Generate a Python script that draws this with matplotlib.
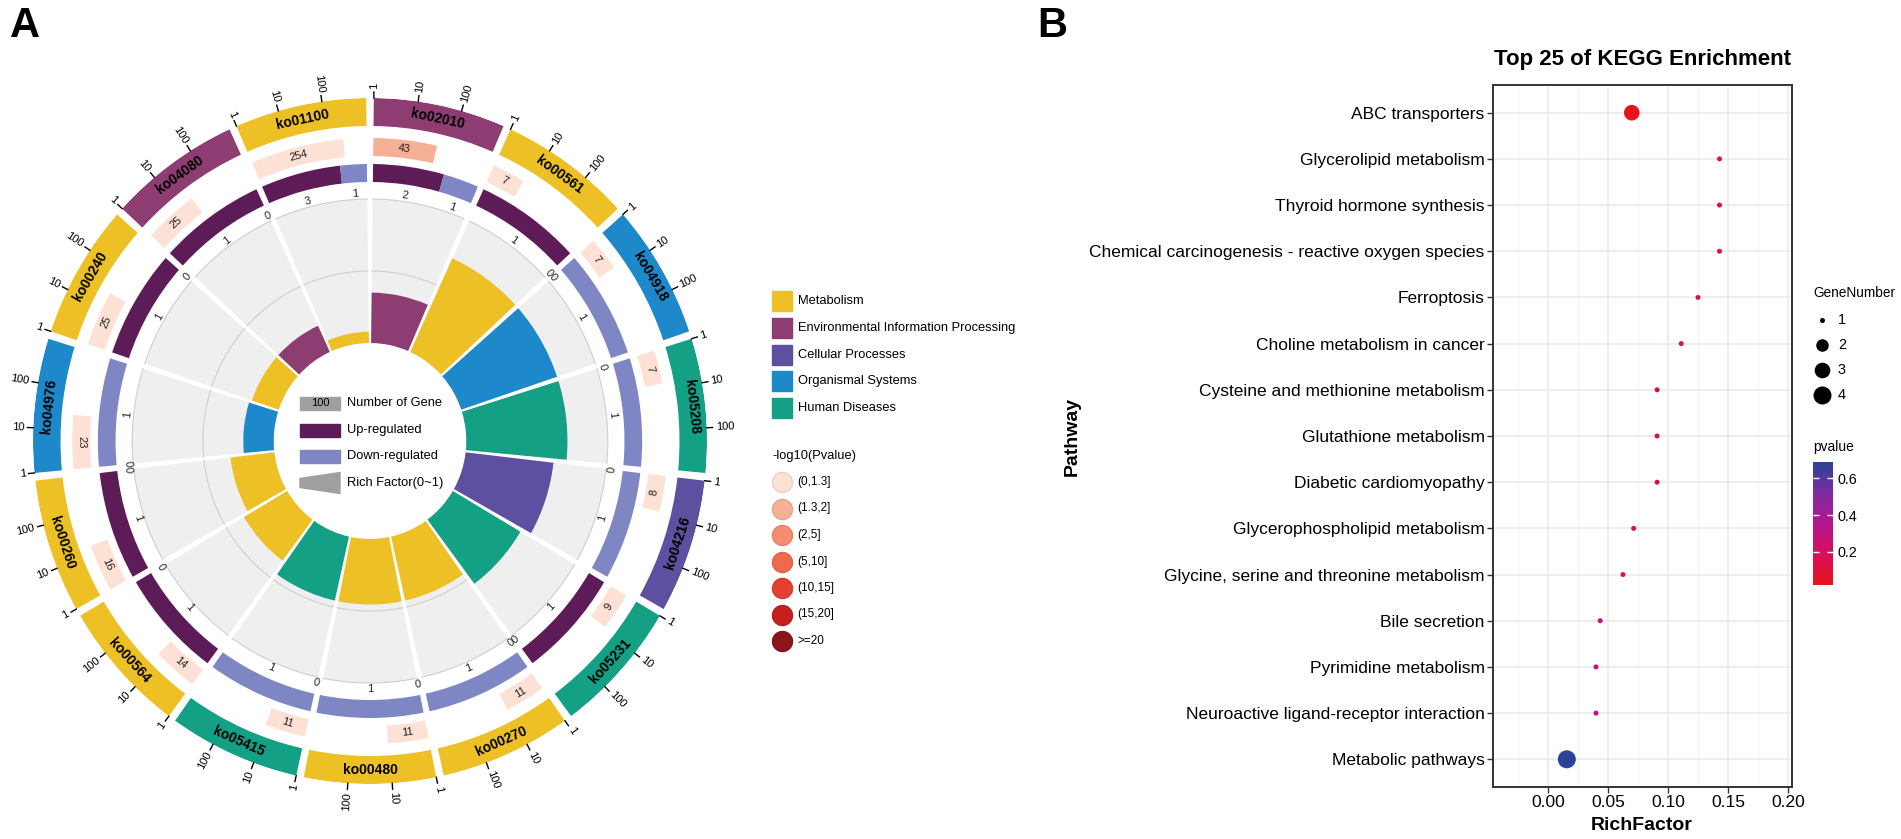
import numpy as np
import matplotlib
matplotlib.use('Agg')
import matplotlib.pyplot as plt
from matplotlib.patches import Rectangle, Polygon
from matplotlib.colors import LinearSegmentedColormap, to_rgb

plt.rcParams['font.family'] = ['Liberation Sans', 'DejaVu Sans']

# ---------------- panel A data (sectors clockwise from 12 o'clock)
ko_ids = ['ko02010', 'ko00561', 'ko04918', 'ko05208', 'ko04216', 'ko05231', 'ko00270', 'ko00480',
          'ko05415', 'ko00564', 'ko00260', 'ko04976', 'ko00240', 'ko04080', 'ko01100']
ko_class = ['Environmental Information Processing', 'Metabolism', 'Organismal Systems', 'Human Diseases',
            'Cellular Processes', 'Human Diseases', 'Metabolism', 'Metabolism', 'Human Diseases',
            'Metabolism', 'Metabolism', 'Organismal Systems', 'Metabolism',
            'Environmental Information Processing', 'Metabolism']
bg_genes = [43, 7, 7, 7, 8, 9, 11, 11, 11, 14, 16, 23, 25, 25, 254]
up_genes = [2, 1, 0, 0, 0, 1, 0, 0, 0, 1, 1, 0, 1, 1, 3]
down_genes = [1, 0, 1, 1, 1, 0, 1, 1, 1, 0, 0, 1, 0, 0, 1]
rich_factor = [0.070, 0.143, 0.143, 0.143, 0.125, 0.111, 0.091, 0.091, 0.091, 0.071, 0.0625,
               0.043, 0.040, 0.040, 0.0157]
p_class = ['(1.3,2]'] + ['(0,1.3]'] * 14

class_names = ['Metabolism', 'Environmental Information Processing', 'Cellular Processes',
               'Organismal Systems', 'Human Diseases']
class_colors = {'Metabolism': '#EDC126', 'Environmental Information Processing': '#8E3D72',
                'Cellular Processes': '#5F4FA0', 'Organismal Systems': '#1D89CB',
                'Human Diseases': '#13A085'}
p_names = ['(0,1.3]', '(1.3,2]', '(2,5]', '(5,10]', '(10,15]', '(15,20]', '>=20']
p_colors = {'(0,1.3]': '#FCE1D4', '(1.3,2]': '#F6B095', '(2,5]': '#F38E70', '(5,10]': '#EE6A4E',
            '(10,15]': '#E53F32', '(15,20]': '#C3201F', '>=20': '#8B1518'}
up_col = '#5D1B57'
down_col = '#7E87C3'
tick_vals = [1, 10, 100]

# ---------------- panel B data
pathways = ['ABC transporters', 'Glycerolipid metabolism', 'Thyroid hormone synthesis',
            'Chemical carcinogenesis - reactive oxygen species', 'Ferroptosis',
            'Choline metabolism in cancer', 'Cysteine and methionine metabolism',
            'Glutathione metabolism', 'Diabetic cardiomyopathy', 'Glycerophospholipid metabolism',
            'Glycine, serine and threonine metabolism', 'Bile secretion', 'Pyrimidine metabolism',
            'Neuroactive ligand-receptor interaction', 'Metabolic pathways']
rf_b = [0.0698, 0.1429, 0.1429, 0.1429, 0.125, 0.111, 0.0909, 0.0909, 0.0909, 0.0714, 0.0625,
        0.0435, 0.040, 0.040, 0.0157]
gene_number = [3, 1, 1, 1, 1, 1, 1, 1, 1, 1, 1, 1, 1, 1, 4]
pvalue = [0.019, 0.10, 0.10, 0.10, 0.11, 0.12, 0.14, 0.14, 0.14, 0.17, 0.19, 0.27, 0.29, 0.29, 0.69]

W, H = 1901, 839
fig = plt.figure(figsize=(W / 100, H / 100), dpi=100)


def fx(x):
    return x / W


def fy(y):
    return 1 - y / H


# ---------------- panel A : circos
cx, cy, Rx, Ry = 370, 441, 337, 343
R = Ry
axA = fig.add_axes([fx(cx - Rx), fy(cy + Ry), 2 * Rx / W, 2 * Ry / H], projection='polar')
axA.set_theta_zero_location('N')
axA.set_theta_direction(-1)
axA.set_aspect('auto')
axA.axis('off')

r_ring, h_ring = 315, 28
r_num, h_num = 285, 18
r_ud, h_ud = 259, 18
r_udlab = 248
r_in, r_grid, r_out = 98, 170, 242
rf_scale = 720


def tan_rot(a):
    rot = (-a + 180) % 360 - 180
    if rot < -90:
        rot += 180
    elif rot > 90:
        rot -= 180
    return rot


def rad_rot(a):
    phi = (90 - a + 180) % 360 - 180
    if np.cos(np.radians(phi)) >= -1e-9:
        return phi, 'left'
    return phi + 180, 'right'


n = len(ko_ids)
step = 360 / n
gap = 1.3
for i in range(n):
    a0 = i * step + gap / 2
    w = step - gap
    ac = a0 + w / 2
    col = class_colors[ko_class[i]]
    # outer class ring + label
    axA.bar(np.radians(ac), h_ring, width=np.radians(w), bottom=r_ring, color=col, linewidth=0)
    axA.text(np.radians(ac), r_ring + h_ring / 2, ko_ids[i], rotation=tan_rot(ac), rotation_mode='anchor',
             ha='center', va='center', fontsize=10, fontweight='bold', color='black')
    # log ticks
    for v in tick_vals:
        a = a0 + np.log10(v) / 3 * w
        axA.plot([np.radians(a)] * 2, [R, R + 6], color='black', lw=1, clip_on=False)
        rot, ha = rad_rot(a)
        axA.text(np.radians(a), R + 9, str(v), rotation=rot, rotation_mode='anchor', ha=ha, va='center',
                 fontsize=8, color='black')
    # number of genes bar
    frac = np.log10(bg_genes[i]) / 3
    axA.bar(np.radians(a0), h_num, width=np.radians(w * frac), bottom=r_num, align='edge',
            color=p_colors[p_class[i]], linewidth=0)
    an = a0 + w * frac / 2
    axA.text(np.radians(an), r_num + h_num / 2, str(bg_genes[i]), rotation=tan_rot(an), rotation_mode='anchor',
             ha='center', va='center', fontsize=8, color='#222222')
    # up / down ring
    tot = up_genes[i] + down_genes[i]
    wu = w * up_genes[i] / tot
    wd = w * down_genes[i] / tot
    if wu > 0:
        axA.bar(np.radians(a0), h_ud, width=np.radians(wu), bottom=r_ud, align='edge', color=up_col, linewidth=0)
    if wd > 0:
        axA.bar(np.radians(a0 + wu), h_ud, width=np.radians(wd), bottom=r_ud, align='edge', color=down_col,
                linewidth=0)
    for a, s in [(a0 + wu / 2, up_genes[i]), (a0 + wu + wd / 2, down_genes[i])]:
        axA.text(np.radians(a), r_udlab, str(s), rotation=tan_rot(a), rotation_mode='anchor', ha='center',
                 va='center', fontsize=8, color='#222222')
    # rich factor track
    axA.bar(np.radians(ac), r_out - r_in, width=np.radians(w), bottom=r_in, color='#EFEFEF', linewidth=0)
    th = np.radians(np.linspace(a0, a0 + w, 60))
    axA.plot(th, np.full_like(th, r_grid), color='#CFCFCF', lw=0.8)
    axA.plot(th, np.full_like(th, r_out), color='#CFCFCF', lw=0.8)
    axA.bar(np.radians(ac), rich_factor[i] * rf_scale, width=np.radians(w), bottom=r_in, color=col,
            linewidth=0, zorder=3)
axA.set_ylim(0, R)

# overlay in pixel coordinates for legends and panel letters
ov = fig.add_axes([0, 0, 1, 1])
ov.set_xlim(0, W)
ov.set_ylim(H, 0)
ov.axis('off')

ov.text(10, 6, 'A', fontsize=30, fontweight='bold', va='top', ha='left')
ov.text(1037, 6, 'B', fontsize=30, fontweight='bold', va='top', ha='left')

# centre legend
lx = 300
ov.add_patch(Rectangle((lx, 397), 40, 13, color='#A0A0A0'))
ov.text(lx + 20, 403.5, '100', ha='center', va='center', fontsize=8)
ov.add_patch(Rectangle((lx, 423.5), 40, 13, color=up_col))
ov.add_patch(Rectangle((lx, 450), 40, 13, color=down_col))
ov.add_patch(Polygon([(lx, 478.5), (lx + 40, 472.5), (lx + 40, 493.5), (lx, 487.5)], color='#A0A0A0'))
for yy, s in zip([403.5, 430, 456.5, 483], ['Number of Gene', 'Up-regulated', 'Down-regulated',
                                            'Rich Factor(0~1)']):
    ov.text(lx + 47, yy, s, va='center', ha='left', fontsize=9.3)

# right legend
for k, name in enumerate(class_names):
    yy = 301 + k * 26.8
    ov.add_patch(Rectangle((772, yy - 10), 20, 20, color=class_colors[name]))
    ov.text(798, yy, name, va='center', ha='left', fontsize=9.3)
ov.text(772, 456, '-log10(Pvalue)', va='center', ha='left', fontsize=9.3)
for k, name in enumerate(p_names):
    yy = 482 + k * 26.5
    edge = tuple(c * 0.93 for c in to_rgb(p_colors[name]))
    ov.scatter([782], [yy], s=(20 * 0.72) ** 2, color=p_colors[name], edgecolors=[edge], linewidths=1)
    ov.text(797, yy, name, va='center', ha='left', fontsize=8.5)

# ---------------- panel B : bubble chart
cmap = LinearSegmentedColormap.from_list('pv', ['#E8141C', '#D8105A', '#B5158E', '#7A2E9F', '#2A4399'])
sizes = [((5 + 13 * np.sqrt((g - 1) / 3)) * 0.72) ** 2 for g in gene_number]
ypos = np.arange(len(pathways))[::-1] + 1

axB = fig.add_axes([fx(1493), fy(787), 299 / W, 702 / H])
sc = axB.scatter(rf_b, ypos, s=sizes, c=pvalue, cmap=cmap, vmin=min(pvalue), vmax=max(pvalue),
                 linewidths=0, zorder=3)
axB.set_xlim(-0.0458, 0.2033)
axB.set_ylim(0.4, 15.6)
axB.set_xticks([0, 0.05, 0.10, 0.15, 0.20])
axB.set_xticklabels(['0.00', '0.05', '0.10', '0.15', '0.20'])
axB.set_xticks([-0.025, 0.025, 0.075, 0.125, 0.175], minor=True)
axB.set_yticks(ypos)
axB.set_yticklabels(pathways)
axB.grid(True, which='major', color='#EBEBEB', lw=1.2)
axB.grid(True, which='minor', axis='x', color='#F3F3F3', lw=0.7)
axB.set_axisbelow(True)
for sp in axB.spines.values():
    sp.set_color('#333333')
    sp.set_linewidth(1.4)
axB.tick_params(which='major', length=4, width=1, color='#333333', labelsize=12.5, labelcolor='black', pad=2)
axB.tick_params(which='minor', length=0)

fig.text(fx(1642), fy(60), 'Top 25 of KEGG Enrichment', ha='center', va='center', fontsize=16,
         fontweight='bold')
fig.text(fx(1642), fy(825), 'RichFactor', ha='center', va='center', fontsize=14, fontweight='bold')
fig.text(fx(1072), fy(436), 'Pathway', ha='center', va='center', rotation=90, fontsize=14,
         fontweight='bold')

# GeneNumber legend
ov.text(1813, 293, 'GeneNumber', va='center', ha='left', fontsize=9.8)
for k, g in enumerate([1, 2, 3, 4]):
    yy = 320 + k * 25
    ov.scatter([1822], [yy], s=((5 + 13 * np.sqrt((g - 1) / 3)) * 0.72) ** 2, color='black', linewidths=0)
    ov.text(1838, yy, str(g), va='center', ha='left', fontsize=10.4)

# pvalue colourbar
ov.text(1813, 447, 'pvalue', va='center', ha='left', fontsize=9.9)
cax = fig.add_axes([fx(1813), fy(585), 20 / W, 123 / H])
cb = fig.colorbar(sc, cax=cax)
cb.outline.set_visible(False)
cb.set_ticks([0.2, 0.4, 0.6])
cb.set_ticklabels(['0.2', '0.4', '0.6'])
cax.tick_params(length=4, width=1, color='white', direction='in', labelsize=10.4, left=True, right=True,
                pad=3)

fig.savefig('out.png', dpi=100)
